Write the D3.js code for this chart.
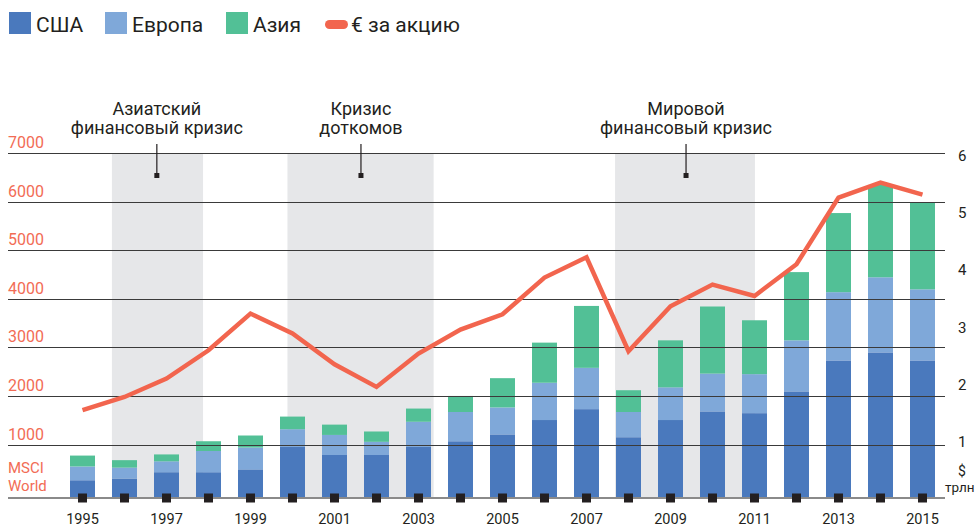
<!DOCTYPE html>
<html>
<head>
<meta charset="utf-8">
<script src="https://cdn.jsdelivr.net/npm/d3@7/dist/d3.min.js"></script>
<style>
    body { margin: 0; background: #fff; }
    svg { font-family: Roboto, "Noto Sans", sans-serif; }
</style>
</head>
<body>
<svg id="chart" width="977" height="528"></svg>
<script>
// Data (trillion $ market cap by region, MSCI World € per share)
const years = [1995, 1996, 1997, 1998, 1999, 2000, 2001, 2002, 2003, 2004, 2005,
               2006, 2007, 2008, 2009, 2010, 2011, 2012, 2013, 2014, 2015];
const usa    = [0.31, 0.34, 0.45, 0.45, 0.50, 0.89, 0.75, 0.75, 0.89, 0.99, 1.11,
                1.36, 1.55, 1.06, 1.36, 1.51, 1.48, 1.86, 2.40, 2.54, 2.40];
const europe = [0.24, 0.19, 0.19, 0.37, 0.38, 0.31, 0.35, 0.23, 0.44, 0.51, 0.47,
                0.65, 0.72, 0.44, 0.57, 0.66, 0.68, 0.89, 1.19, 1.31, 1.24];
const asia   = [0.19, 0.13, 0.12, 0.17, 0.21, 0.22, 0.18, 0.18, 0.23, 0.28, 0.51,
                0.70, 1.08, 0.38, 0.82, 1.17, 0.94, 1.19, 1.38, 1.61, 1.52];
const perShare = [1706, 1979, 2358, 2940, 3695, 3284, 2652, 2185, 2872, 3366, 3681,
                  4436, 4854, 2920, 3846, 4292, 4058, 4710, 6082, 6391, 6144];

const yearLabels = [1995, 1997, 1999, 2001, 2003, 2005, 2007, 2009, 2011, 2013, 2015];
const leftTicks = [1000, 2000, 3000, 4000, 5000, 6000, 7000];
const rightTicks = [1, 2, 3, 4, 5, 6];

const crises = [
    { lines: ["Азиатский", "финансовый кризис"], from: 1995.70, to: 1997.87, mark: 1996.77 },
    { lines: ["Кризис", "доткомов"], from: 1999.88, to: 2003.36, mark: 2001.63 },
    { lines: ["Мировой", "финансовый кризис"], from: 2007.68, to: 2011.01, mark: 2009.37 }
];

const legendItems = [
    { key: "usa", name: "США" },
    { key: "europe", name: "Европа" },
    { key: "asia", name: "Азия" },
    { key: "line", name: "€ за акцию" }
];

const colors = { usa: "#4a79bd", europe: "#7fa8d9", asia: "#52c096", line: "#f2654e" };
const textColor = "#231f20";

const svg = d3.select("#chart");

const baseY = 498;
const topY = 153;

const x = d3.scaleLinear().domain([1995, 2015]).range([82.5, 922.5]);
const yL = d3.scaleLinear().domain([1000, 7000]).range([444.5, topY]);
const yR = d3.scaleLinear().domain([0, 6]).range([baseY, 154]);
const barW = 25;

// Crisis bands
svg.append("g")
    .selectAll("rect")
    .data(crises)
    .join("rect")
    .attr("x", d => x(d.from))
    .attr("width", d => x(d.to) - x(d.from))
    .attr("y", topY)
    .attr("height", baseY - topY)
    .style("fill", "#e6e7e9");

// Stacked bars
const table = years.map((yr, i) => ({ year: yr, usa: usa[i], europe: europe[i], asia: asia[i] }));
const series = d3.stack().keys(["usa", "europe", "asia"])(table);

svg.append("g")
    .selectAll("g")
    .data(series)
    .join("g")
    .style("fill", d => colors[d.key])
    .selectAll("rect")
    .data(d => d)
    .join("rect")
    .attr("x", d => x(d.data.year) - barW / 2)
    .attr("width", barW)
    .attr("y", d => yR(d[1]))
    .attr("height", d => yR(d[0]) - yR(d[1]));

// Grid lines (left axis ticks)
svg.append("g")
    .selectAll("line")
    .data(leftTicks)
    .join("line")
    .attr("x1", 8)
    .attr("x2", 945)
    .attr("y1", d => Math.round(yL(d)) + 0.5)
    .attr("y2", d => Math.round(yL(d)) + 0.5)
    .style("stroke", "#3a3a3a")
    .style("stroke-width", 1.2);

// Left labels
svg.append("g")
    .selectAll("text")
    .data(leftTicks)
    .join("text")
    .attr("x", 8)
    .attr("y", d => yL(d) - 5)
    .text(d => d)
    .style("fill", "#f26c55")
    .style("font-size", "16px");

svg.append("text")
    .attr("x", 8).attr("y", 473)
    .text("MSCI")
    .style("fill", "#f26c55").style("font-size", "15px");
svg.append("text")
    .attr("x", 8).attr("y", 491)
    .text("World")
    .style("fill", "#f26c55").style("font-size", "15px");

// Right axis
const rightAxis = svg.append("g")
    .attr("transform", "translate(954,0)")
    .call(d3.axisRight(yR).tickValues(rightTicks).tickFormat(d3.format("d")).tickSize(0).tickPadding(4));
rightAxis.select(".domain").remove();
rightAxis.selectAll("text")
    .attr("dy", "0.4em")
    .style("font-family", "Roboto, sans-serif")
    .style("font-size", "15px")
    .style("fill", textColor);

svg.append("text")
    .attr("x", 958).attr("y", 476)
    .text("$")
    .style("fill", textColor).style("font-size", "14px");
svg.append("text")
    .attr("x", 945).attr("y", 492)
    .text("трлн")
    .style("fill", textColor).style("font-size", "13.5px");

// Baseline
svg.append("line")
    .attr("x1", 8).attr("x2", 945)
    .attr("y1", baseY).attr("y2", baseY)
    .style("stroke", "#8a8a8a")
    .style("stroke-width", 2);

// Year markers
svg.append("g")
    .selectAll("rect")
    .data(years)
    .join("rect")
    .attr("x", d => x(d) - 4.5)
    .attr("y", baseY - 4.5)
    .attr("width", 9)
    .attr("height", 9)
    .style("fill", "#231f20");

// Year labels
svg.append("g")
    .selectAll("text")
    .data(yearLabels)
    .join("text")
    .attr("x", d => x(d))
    .attr("y", 524)
    .attr("text-anchor", "middle")
    .text(d => d)
    .style("fill", textColor)
    .style("font-size", "14.5px");

// Per-share line
const line = d3.line()
    .x((d, i) => x(years[i]))
    .y(d => yL(d));

svg.append("path")
    .datum(perShare)
    .attr("d", line)
    .style("fill", "none")
    .style("stroke", colors.line)
    .style("stroke-width", 4.5)
    .style("stroke-linejoin", "miter");

// Crisis annotations
const ann = svg.append("g")
    .selectAll("g")
    .data(crises)
    .join("g")
    .attr("transform", d => `translate(${x(d.mark)},0)`);

ann.append("line")
    .attr("y1", 144).attr("y2", 176)
    .style("stroke", textColor)
    .style("stroke-width", 1.2);

ann.append("rect")
    .attr("x", -2.5).attr("y", 173)
    .attr("width", 5).attr("height", 5)
    .style("fill", textColor);

ann.selectAll("text")
    .data(d => d.lines)
    .join("text")
    .attr("y", (d, i) => 115 + i * 19)
    .attr("text-anchor", "middle")
    .text(d => d)
    .style("fill", textColor)
    .style("font-size", "18px");

// Legend
const legend = svg.append("g")
    .selectAll("g")
    .data(legendItems)
    .join("g")
    .attr("transform", (d, i) => `translate(${[9, 105, 226, 325][i]},0)`);

legend.filter(d => d.key !== "line")
    .append("rect")
    .attr("y", 12)
    .attr("width", 22)
    .attr("height", 22)
    .style("fill", d => colors[d.key]);

legend.filter(d => d.key === "line")
    .append("line")
    .attr("x1", 4.5).attr("x2", 18.5)
    .attr("y1", 24.5).attr("y2", 24.5)
    .style("stroke", colors.line)
    .style("stroke-width", 9)
    .style("stroke-linecap", "round");

legend.append("text")
    .attr("x", d => d.key === "line" ? 26 : 27)
    .attr("y", 32)
    .text(d => d.name)
    .style("fill", textColor)
    .style("font-size", "21px");
</script>
</body>
</html>
